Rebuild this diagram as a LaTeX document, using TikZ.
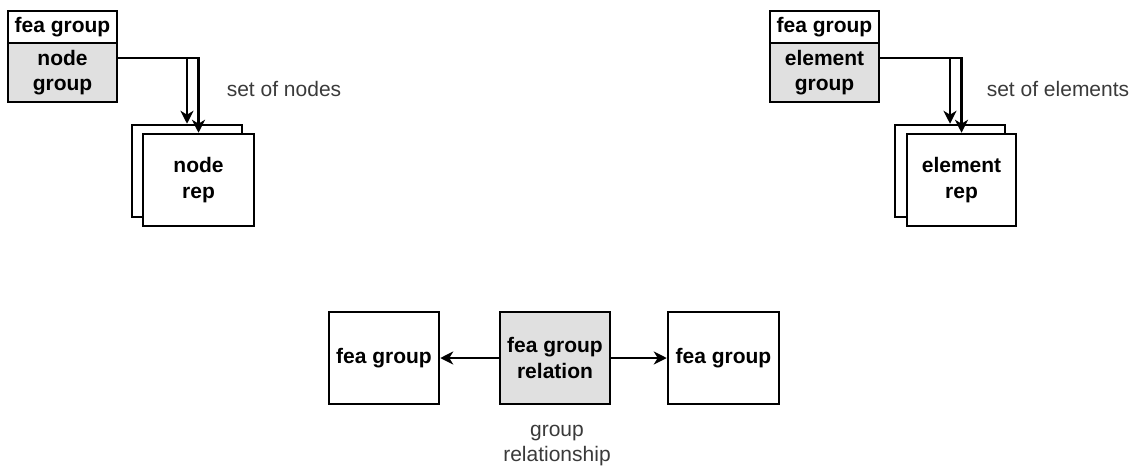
\documentclass[tikz,border=0pt]{standalone}
\usepackage{fontspec}
\setmainfont{Liberation Sans}
\usetikzlibrary{arrows.meta,positioning,calc}
\definecolor{boxgray}{HTML}{E0E0E0}
\definecolor{labelgray}{HTML}{3A3A3A}
\begin{document}
\begin{tikzpicture}[x=1pt,y=-1pt,
  box/.style={draw=black, line width=2.5pt, fill=white, inner sep=0pt,
    align=center, font=\fontsize{21}{25.5}\selectfont\bfseries},
  graybox/.style={box, fill=boxgray},
  link/.style={draw=black, line width=2.5pt,
    -{Stealth[length=13pt,width=13pt,inset=4pt]}},
  caption/.style={text=labelgray, align=center,
    font=\fontsize{21}{25.5}\selectfont}]
\useasboundingbox (0,0) rectangle (1133,469);

% node group with its fea group header
\node[box, minimum width=109pt, minimum height=32pt] (hdrA) at (62.5,27) {fea group};
\node[graybox, minimum width=109pt, minimum height=59pt] (ng) at (62.5,72.5) {node\\group};
% stacked node reps
\node[box, minimum width=110pt, minimum height=92pt] (nrback) at (187,171) {};
\node[box, minimum width=111pt, minimum height=92pt] (nr) at (198.5,180) {node\\rep};
\coordinate (ngout) at ($(ng.north east)+(0,16)$);
\draw[link] (ngout) -| (nrback.north);
\draw[link] (ngout) -| (nr.north);
\node[caption] (setn) at (284,89) {set of nodes};

% element group with its fea group header
\node[box, minimum width=109pt, minimum height=32pt] (hdrB) at (824.5,27) {fea group};
\node[graybox, minimum width=109pt, minimum height=59pt] (eg) at (824.5,72.5) {element\\group};
% stacked element reps
\node[box, minimum width=110pt, minimum height=92pt] (erback) at (950,171) {};
\node[box, minimum width=109pt, minimum height=92pt] (er) at (961.5,180) {element\\rep};
\coordinate (egout) at ($(eg.north east)+(0,16)$);
\draw[link] (egout) -| (erback.north);
\draw[link] (egout) -| (er.north);
\node[caption] (sete) at (1058,89) {set of elements};

% group relation between two fea groups
\node[box, minimum width=110pt, minimum height=92pt] (fgl) at (384,358) {fea group};
\node[graybox, minimum width=110pt, minimum height=92pt] (rel) at (555,358) {fea group\\relation};
\node[box, minimum width=111pt, minimum height=92pt] (fgr) at (723.5,358) {fea group};
\draw[link] (rel) -- (fgl);
\draw[link] (rel) -- (fgr);
\node[caption] (relcap) at (557,445.5) {group\\relationship};
\end{tikzpicture}
\end{document}
